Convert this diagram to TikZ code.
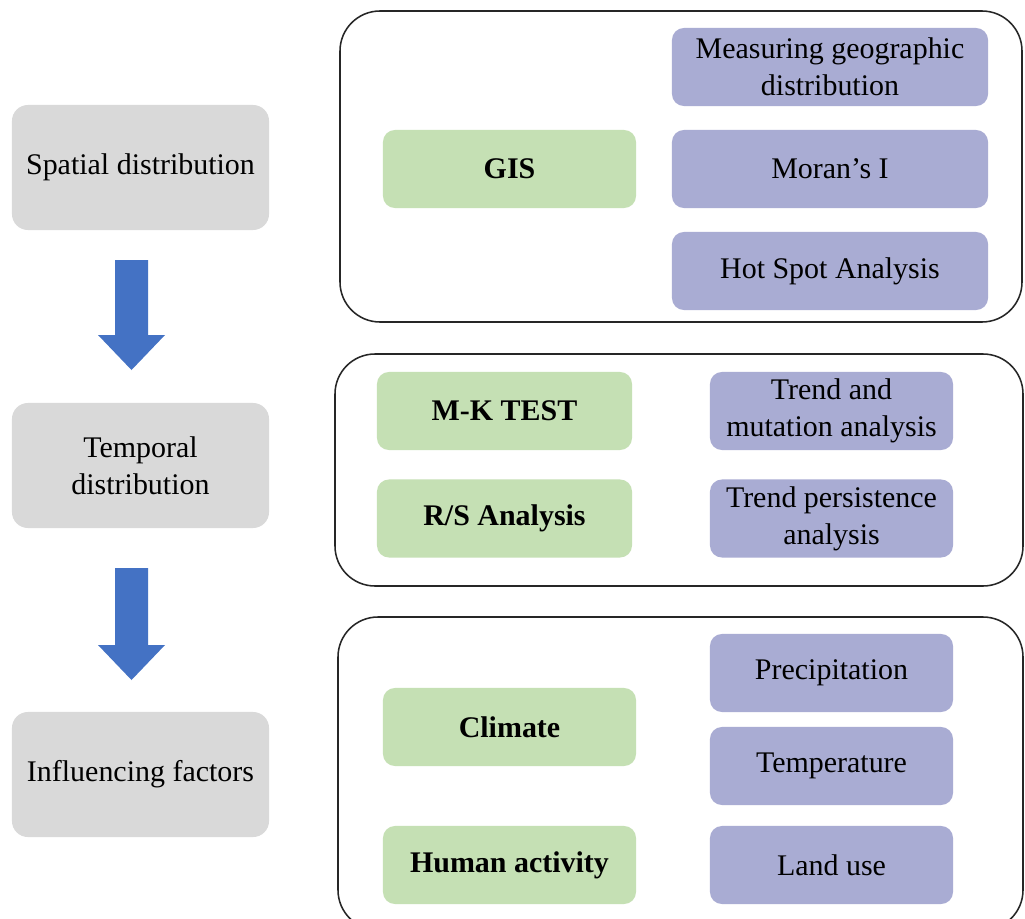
\documentclass[tikz,border=0pt]{standalone}
\usepackage{fontspec}
\setmainfont{Liberation Serif}
\usepackage{tikz}

\definecolor{boxgrey}{HTML}{D9D9D9}
\definecolor{boxgreen}{HTML}{C5E0B4}
\definecolor{boxpurple}{HTML}{A9ACD3}
\definecolor{arrowblue}{HTML}{4472C4}

\newcommand{\diagfont}{\fontsize{21.3}{26.3}\selectfont}

\tikzset{
  stage/.style={fill=boxgrey, rounded corners=0.4cm, minimum width=6.425cm, minimum height=3.125cm, align=center, inner sep=0pt},
  method/.style={fill=boxgreen, rounded corners=0.3cm, minimum width=6.325cm, minimum height=1.95cm, align=center, inner sep=0pt, font=\diagfont\bfseries},
  detail/.style={fill=boxpurple, rounded corners=0.3cm, minimum height=1.95cm, align=center, inner sep=0pt},
  panel/.style={draw=black!85, line width=1.1pt, rounded corners=1cm},
}

\begin{document}
\begin{tikzpicture}[x=0.025cm, y=-0.025cm, font=\diagfont]
        \useasboundingbox (0,0) rectangle (1025,919);
        \fill[white] (0,0) rectangle (1025,919);

        % Left column: stages
        \node[stage] (spatial) at (140.5,167.5) {Spatial distribution};
        \node[stage] (temporal) at (140.5,465.5) {Temporal\\distribution};
        \node[stage] (factors) at (140.5,774.5) {Influencing factors};

        % Block arrows between stages
        \fill[arrowblue] (115,260) -- (148,260) -- (148,335) -- (165,335) -- (131.5,370) -- (98,335) -- (115,335) -- cycle;
        \fill[arrowblue] (115,568) -- (148,568) -- (148,645) -- (165,645) -- (131.5,680) -- (98,645) -- (115,645) -- cycle;

        % Panels
        \draw[panel] (340,11) rectangle (1022,322);
        \draw[panel] (335,354) rectangle (1023,586);
        \draw[panel] (338,617) rectangle (1023,930);

        % Spatial methods
        \node[method] (gis) at (509.5,169) {GIS};
        \node[detail, minimum width=7.9cm] (measure) at (830,67) {Measuring geographic\\distribution};
        \node[detail, minimum width=7.9cm] (moran) at (830,169) {Moran’s I};
        \node[detail, minimum width=7.9cm] (hotspot) at (830,271) {Hot Spot Analysis};

        % Temporal methods
        \node[method, minimum width=6.375cm] (mktest) at (504.5,411) {M-K TEST};
        \node[method, minimum width=6.375cm] (rsanalysis) at (504.5,518.5) {R/S Analysis};
        \node[detail, minimum width=6.075cm] (mutation) at (831.5,411) {Trend and\\mutation analysis};
        \node[detail, minimum width=6.075cm] (persistence) at (831.5,518.5) {Trend persistence\\analysis};

        % Influencing factors
        \node[method] (climate) at (509.5,727) {Climate};
        \node[method] (human) at (509.5,865) {Human activity};
        \node[detail, minimum width=6.075cm] (precip) at (831.5,673) {Precipitation};
        \node[detail, minimum width=6.075cm] (temp) at (831.5,766) {Temperature};
        \node[detail, minimum width=6.075cm] (landuse) at (831.5,865) {Land use};
    \end{tikzpicture}
\end{document}
